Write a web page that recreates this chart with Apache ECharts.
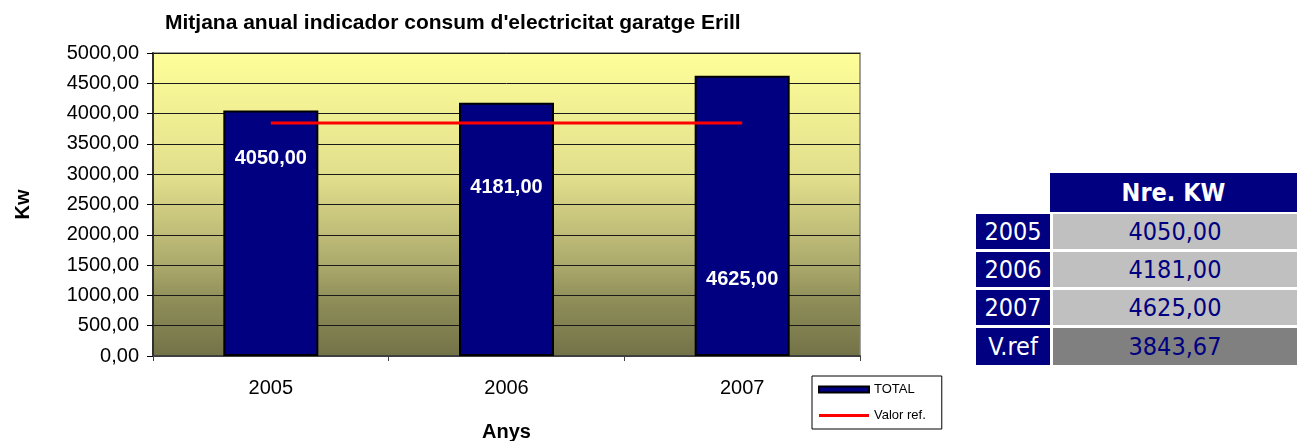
<!DOCTYPE html>
<html>
<head>
<meta charset="utf-8">
<script src="https://cdn.jsdelivr.net/npm/echarts@6/dist/echarts.min.js"></script>
<style>
  body { margin: 0; background: #fff; }
  #main { width: 1301px; height: 441px; position: relative; }
  .cell { position: absolute; font-family: "DejaVu Sans Condensed", "DejaVu Sans", sans-serif;
          font-size: 25px; line-height: 36px; text-align: center; box-sizing: border-box; }
</style>
</head>
<body>
<div id="main"></div>
<script>
var myChart = echarts.init(document.getElementById('main'));

var anys = ['2005', '2006', '2007'];
var total = [4050, 4181, 4625];
var valorRef = [3843.67, 3843.67, 3843.67];
var taulaFiles = ['2005', '2006', '2007', 'V.ref'];
var taulaValors = [4050, 4181, 4625, 3843.67];

// offset vertical de les etiquetes dins les barres
var labelDy = [33, 70, 189];

function coma(v) {
    return v.toFixed(2).replace('.', ',');
}

var option = {
    animation: false,
    title: {
        text: "Mitjana anual indicador consum d'electricitat garatge Erill",
        left: 160,
        top: 8,
        textStyle: {
            fontFamily: 'Liberation Sans',
            fontSize: 21,
            fontWeight: 'bold',
            color: '#000'
        }
    },
    grid: {
        left: 153,
        right: 441,
        top: 53,
        bottom: 85,
        outerBoundsMode: 'none',
        show: true,
        borderColor: '#808080',
        borderWidth: 1.5,
        backgroundColor: new echarts.graphic.LinearGradient(0, 0, 0, 1, [
            { offset: 0, color: '#ffff99' },
            { offset: 0.42, color: '#e0dd8c' },
            { offset: 0.7, color: '#aba96b' },
            { offset: 0.82, color: '#8e8d58' },
            { offset: 1, color: '#727248' }
        ])
    },
    legend: {
        orient: 'vertical',
        left: 812,
        top: 376,
        padding: [7, 16, 7, 6],
        borderColor: '#000',
        borderWidth: 1,
        itemWidth: 50,
        itemHeight: 6,
        itemGap: 13,
        textStyle: {
            fontFamily: 'Liberation Sans',
            fontSize: 13,
            color: '#000'
        },
        data: [
            { name: 'TOTAL', icon: 'rect' },
            {
                name: 'Valor ref.',
                icon: 'path://M0,0 L50,0 Z M0,1.5 L50,1.5 L50,4.5 L0,4.5 Z M0,6 L50,6 Z',
                itemStyle: { color: '#ff0000', borderWidth: 0 }
            }
        ]
    },
    xAxis: {
        type: 'category',
        data: anys,
        name: 'Anys',
        nameLocation: 'middle',
        nameGap: 66,
        nameTextStyle: {
            fontFamily: 'Liberation Sans',
            fontSize: 20,
            fontWeight: 'bold',
            color: '#000'
        },
        axisLine: { lineStyle: { color: '#404040', width: 2 } },
        axisTick: { show: true, length: 5, lineStyle: { color: '#404040' } },
        axisLabel: {
            margin: 22,
            fontFamily: 'Liberation Sans',
            fontSize: 20,
            color: '#000'
        }
    },
    yAxis: {
        type: 'value',
        min: 0,
        max: 5000,
        interval: 500,
        name: 'Kw',
        nameLocation: 'middle',
        nameGap: 120,
        nameRotate: 90,
        nameTextStyle: {
            fontFamily: 'Liberation Sans',
            fontSize: 20,
            fontWeight: 'bold',
            color: '#000'
        },
        axisLine: { show: true, lineStyle: { color: '#303030', width: 2 } },
        axisTick: { show: true, length: 6, lineStyle: { color: '#000' } },
        axisLabel: {
            margin: 14,
            fontFamily: 'Liberation Sans',
            fontSize: 20,
            color: '#000',
            formatter: function (v) { return coma(v); }
        },
        splitLine: { show: true, lineStyle: { color: '#1a1a1a', width: 1 } }
    },
    series: [
        {
            name: 'TOTAL',
            type: 'bar',
            barWidth: 95,
            itemStyle: { color: '#000080', borderColor: '#000', borderWidth: 2 },
            label: {
                show: true,
                position: 'insideTop',
                color: '#fff',
                fontFamily: 'Liberation Sans',
                fontSize: 20,
                fontWeight: 'bold',
                formatter: function (p) { return coma(p.value); }
            },
            data: total.map(function (v, i) {
                return { value: v, label: { offset: [0, labelDy[i]] } };
            })
        },
        {
            name: 'Valor ref.',
            type: 'line',
            symbol: 'none',
            z: 5,
            lineStyle: { color: '#ff0000', width: 3 },
            itemStyle: { color: '#ff0000' },
            data: valorRef
        }
    ]
};
myChart.setOption(option);

// taula lateral
var main = document.getElementById('main');
function addCell(x, y, w, h, bg, color, text, bold) {
    var d = document.createElement('div');
    d.className = 'cell';
    d.style.left = x + 'px';
    d.style.top = y + 'px';
    d.style.width = w + 'px';
    d.style.height = h + 'px';
    d.style.lineHeight = h + 'px';
    d.style.background = bg;
    d.style.color = color;
    if (bold) d.style.fontWeight = 'bold';
    d.textContent = text;
    main.appendChild(d);
}
addCell(1050, 173, 247, 39, '#000080', '#fff', 'Nre. KW', true);
var rowTop = 214;
for (var r = 0; r < taulaFiles.length; r++) {
    var h = r === taulaFiles.length - 1 ? 37 : 35;
    addCell(976, rowTop, 74, h, '#000080', '#fff', taulaFiles[r], false);
    addCell(1053, rowTop, 244, h, r === taulaFiles.length - 1 ? '#808080' : '#c0c0c0', '#000080', coma(taulaValors[r]), false);
    rowTop += 38;
}
</script>
</body>
</html>
